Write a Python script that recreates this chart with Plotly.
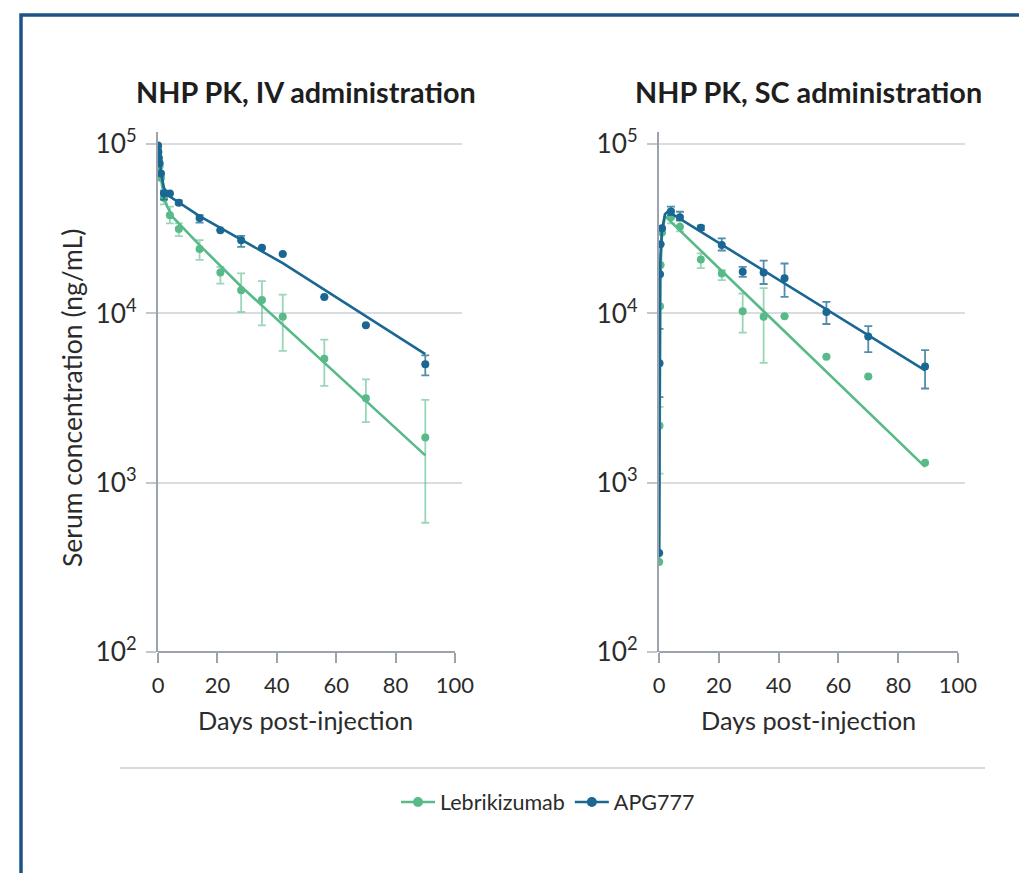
import numpy as np
import plotly.graph_objects as go

# ---------------- data ----------------
# IV administration
iv_days = [0.01, 0.08, 0.25, 0.5, 1, 2, 4, 7, 14, 21, 28, 35, 42, 56, 70, 90]
iv_apg = [98000, 90000, 83000, 77000, 67000, 51000, 51000, 45000, 36600, 31000, 27000, 24400, 22400, 12500, 8500, 5000]
iv_apg_hi = [98000, 90000, 83000, 77000, 67000, 53000, 51000, 46500, 38000, 31000, 28700, 24400, 22400, 12500, 8500, 5650]
iv_apg_lo = [98000, 90000, 83000, 77000, 67000, 47000, 51000, 44000, 34300, 31000, 24700, 24400, 22400, 12500, 8500, 4300]
iv_leb = [95000, 88000, 80000, 74000, 63000, 48000, 38000, 31500, 24000, 17400, 13700, 12000, 9550, 5400, 3150, 1850]
iv_leb_hi = [95000, 88000, 80000, 74000, 63000, 52000, 42700, 34000, 27100, 18800, 17200, 15500, 12900, 7000, 4070, 3080]
iv_leb_lo = [95000, 88000, 80000, 74000, 63000, 44000, 34000, 28600, 20700, 15000, 10200, 8500, 6000, 3730, 2280, 580]

iv_fit_apg_days = [0, 0.5, 1, 2, 4, 14, 42, 90]
iv_fit_apg = [100000, 79000, 68000, 55000, 49000, 37500, 19800, 5750]
iv_fit_leb_days = [0, 0.5, 1, 2, 3, 5, 14, 28, 90]
iv_fit_leb = [100000, 76000, 62000, 49000, 43000, 37000, 25300, 14400, 1450]

# SC administration
sc_days = [0.04, 0.17, 0.33, 0.5, 1, 4, 7, 14, 21, 28, 35, 42, 56, 70, 89]
sc_apg = [384, 5070, 17000, 25600, 31800, 40000, 36900, 32000, 25300, 17600, 17400, 16100, 10200, 7300, 4850]
sc_apg_hi = [384, 8100, 17000, 25600, 31800, 42700, 39800, 33000, 27700, 18800, 20500, 19700, 11700, 8400, 6070]
sc_apg_lo = [384, 3200, 17000, 25600, 31800, 38000, 35500, 31000, 23500, 16400, 14900, 12500, 8650, 5900, 3600]
sc_leb = [340, 2170, 11000, 19300, 30000, 37000, 32500, 20800, 17200, 10300, 9550, 9600, 5550, 4230, 1310]
sc_leb_hi = [340, 2800, 11000, 19300, 30000, 41000, 35000, 22600, 18000, 13100, 14100, 9600, 5550, 4230, 1310]
sc_leb_lo = [340, 1130, 11000, 19300, 30000, 34000, 30500, 18500, 15700, 7700, 5100, 9600, 5550, 4230, 1310]

sc_fit_apg_days = [0.04, 0.17, 0.33, 0.5, 1, 2, 3, 89]
sc_fit_apg = [400, 5000, 15000, 22000, 31000, 38500, 40000, 4600]
sc_fit_leb_days = [0.04, 0.17, 0.33, 0.5, 1, 2, 89]
sc_fit_leb = [340, 2200, 10000, 18000, 29000, 37500, 1240]

series_names = ["Lebrikizumab", "APG777"]
panel_titles = ["NHP PK, IV administration", "NHP PK, SC administration"]
x_ticks = [0, 20, 40, 60, 80, 100]

# ---------------- style ----------------
GREEN = "#57ba88"
GREEN_ERR = "rgba(87,186,136,0.6)"
BLUE = "#196792"
BLUE_ERR = "rgba(25,103,146,0.75)"
GRID = "#d9dce1"
AXIS = "#9ca3ad"
TXT = "#2b2b2b"
FONT = "Lato"

fig = go.Figure()


def add_panel(xa, ya, days, leb, leb_hi, leb_lo, apg, apg_hi, apg_lo,
              fl_d, fl, fa_d, fa):
    leb = np.array(leb, float); apg = np.array(apg, float)
    fig.add_trace(go.Scatter(x=fl_d, y=fl, mode="lines", xaxis=xa, yaxis=ya,
                             line=dict(color=GREEN, width=2.6), showlegend=False,
                             hoverinfo="skip"))
    fig.add_trace(go.Scatter(
        x=days, y=leb, mode="markers", xaxis=xa, yaxis=ya, showlegend=False,
        marker=dict(color=GREEN, size=8),
        error_y=dict(type="data", symmetric=False,
                     array=np.array(leb_hi) - leb, arrayminus=leb - np.array(leb_lo),
                     color=GREEN_ERR, thickness=1.8, width=4)))
    fig.add_trace(go.Scatter(x=fa_d, y=fa, mode="lines", xaxis=xa, yaxis=ya,
                             line=dict(color=BLUE, width=2.6), showlegend=False,
                             hoverinfo="skip"))
    fig.add_trace(go.Scatter(
        x=days, y=apg, mode="markers", xaxis=xa, yaxis=ya, showlegend=False,
        marker=dict(color=BLUE, size=8),
        error_y=dict(type="data", symmetric=False,
                     array=np.array(apg_hi) - apg, arrayminus=apg - np.array(apg_lo),
                     color=BLUE_ERR, thickness=1.8, width=4)))


add_panel("x", "y", iv_days, iv_leb, iv_leb_hi, iv_leb_lo, iv_apg, iv_apg_hi, iv_apg_lo,
          iv_fit_leb_days, iv_fit_leb, iv_fit_apg_days, iv_fit_apg)
add_panel("x2", "y2", sc_days, sc_leb, sc_leb_hi, sc_leb_lo, sc_apg, sc_apg_hi, sc_apg_lo,
          sc_fit_leb_days, sc_fit_leb, sc_fit_apg_days, sc_fit_apg)

# legend entries
for name, col in zip(series_names, [GREEN, BLUE]):
    fig.add_trace(go.Scatter(x=[None], y=[None], mode="lines+markers", name=name,
                             line=dict(color=col, width=2.6),
                             marker=dict(color=col, size=10)))

W, H = 1019, 873
def px(x):
    return x / W
def py(y):
    return (H - y) / H

xdoms = [[px(158), px(462)], [px(659), px(965)]]
ydom = [py(652), py(132)]

common_x = dict(range=[0, 102.36], tickvals=x_ticks, ticks="outside", ticklen=10,
                tickwidth=2, tickcolor=AXIS, showgrid=False, zeroline=False,
                showline=False, tickfont=dict(family=FONT, size=22, color=TXT),
                ticklabelstandoff=4, automargin=False)
common_y = dict(type="log", range=[2, 5.071], dtick=1, exponentformat="power",
                showexponent="all", showgrid=True, gridcolor=GRID, gridwidth=1.5,
                showline=True, linecolor=AXIS, linewidth=2.2, ticks="outside",
                ticklen=10, tickwidth=1.5, tickcolor="#c2c7ce", zeroline=False,
                tickfont=dict(family=FONT, size=21, color=TXT), ticklabelstandoff=5,
                automargin=False)

fig.update_layout(
    width=W, height=H, margin=dict(l=0, r=0, t=0, b=0, pad=0, autoexpand=False),
    paper_bgcolor="white", plot_bgcolor="white",
    font=dict(family=FONT, color=TXT),
    xaxis=dict(domain=xdoms[0], anchor="y", **common_x),
    yaxis=dict(domain=ydom, anchor="x", **common_y),
    xaxis2=dict(domain=xdoms[1], anchor="y2", **common_x),
    yaxis2=dict(domain=ydom, anchor="x2", **common_y),
    legend=dict(orientation="h", x=px(548), xanchor="center", y=py(802), yanchor="middle",
                font=dict(family=FONT, size=21.5, color=TXT), itemwidth=34,
                bgcolor="rgba(0,0,0,0)"),
    showlegend=True,
)

# x-axis baselines (0..100)
for xr, yr in [("x", "y domain"), ("x2", "y2 domain")]:
    fig.add_shape(type="line", xref=xr, yref=yr, x0=0, x1=100, y0=0, y1=0,
                  line=dict(color=AXIS, width=2.2))

# separator + frame
fig.add_shape(type="line", xref="paper", yref="paper", x0=px(120), x1=px(985),
              y0=py(768), y1=py(768), line=dict(color="#c9cdd3", width=1.5))
fig.add_shape(type="rect", xref="paper", yref="paper", x0=px(21), x1=1.2,
              y0=-0.2, y1=py(15), line=dict(color="#1d5487", width=3.5))

# titles
for title, cx in zip(panel_titles, [306, 808]):
    fig.add_annotation(text="<b>" + title + "</b>", xref="paper", yref="paper",
                       x=px(cx), y=py(92), showarrow=False, xanchor="center",
                       yanchor="middle", font=dict(family=FONT, size=28.8, color="#1e1e1e"))
for cx in [305, 808]:
    fig.add_annotation(text="Days post-injection", xref="paper", yref="paper",
                       x=px(cx), y=py(720), showarrow=False, xanchor="center",
                       yanchor="middle", font=dict(family=FONT, size=25.3, color=TXT))
fig.add_annotation(text="Serum concentration (ng/mL)", xref="paper", yref="paper",
                   x=px(72), y=py(398), showarrow=False, textangle=-90,
                   xanchor="center", yanchor="middle",
                   font=dict(family=FONT, size=26.5, color=TXT))

fig.write_html("out.html", config={"displayModeBar": False},
               post_script="document.body.style.margin='0px';"
                           "document.documentElement.style.overflow='hidden';"
                           "document.body.style.overflow='hidden';")
